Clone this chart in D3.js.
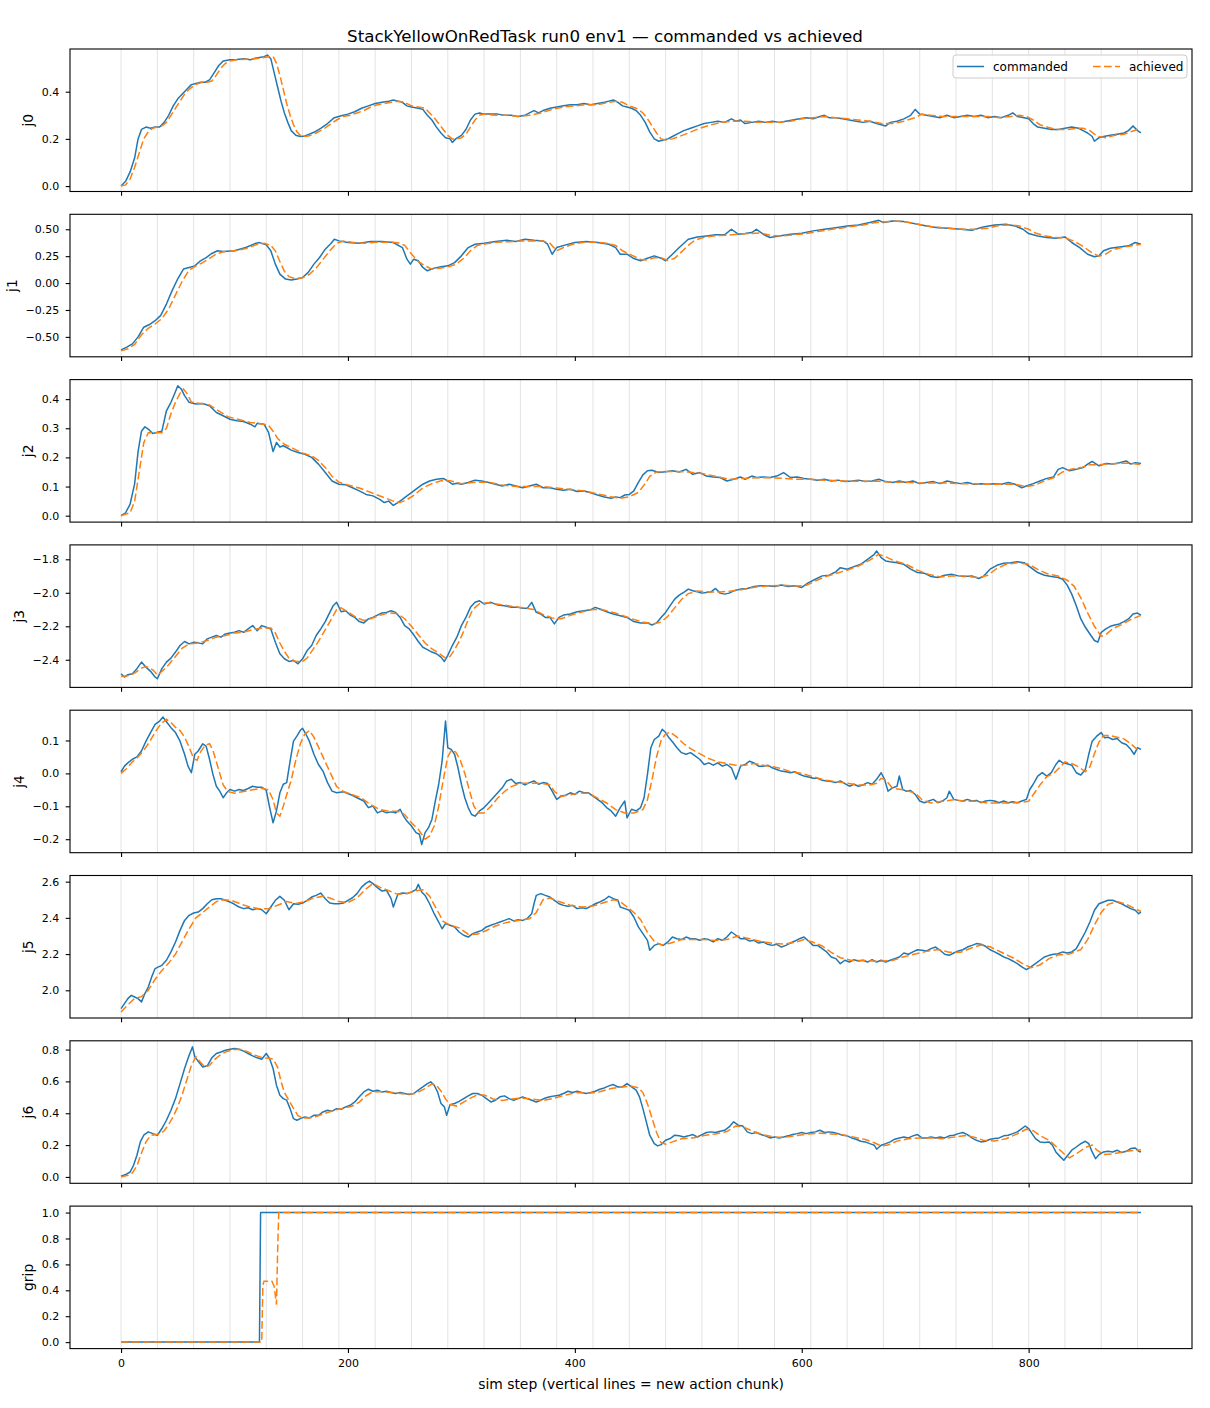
<!DOCTYPE html>
<html lang="en">
<head>
<meta charset="UTF-8">
<title>StackYellowOnRedTask run0 env1 — commanded vs achieved</title>
<script src="https://d3js.org/d3.v7.min.js"></script>
<style>
  body { margin: 0; background: #fff; }
  svg { font-family: "DejaVu Sans", sans-serif; display: block; }
</style>
</head>
<body>
<div id="chart"></div>
<script>
// ---- data: [sim step, value] ----
const jointNames = ["j0", "j1", "j2", "j3", "j4", "j5", "j6", "grip"];
const chunkStarts = [0, 32, 64, 96, 128, 160, 192, 224, 256, 288, 320, 352, 384, 416, 448, 480,
  512, 544, 576, 608, 640, 672, 704, 736, 768, 800, 832, 864, 896];
const xTicks = [0, 200, 400, 600, 800];

const j0Commanded = [[0,0.0],[4,0.02],[8,0.06],[12,0.12],[15,0.2],[18,0.24],[22,0.25],[26,0.245],[30,0.25],[34,0.25],[38,0.27],[42,0.3],[46,0.34],[50,0.37],[54,0.39],[58,0.41],[62,0.43],[66,0.435],[70,0.44],[74,0.44],[78,0.45],[82,0.48],[86,0.51],[90,0.53],[96,0.535],[102,0.537],[108,0.54],[114,0.535],[118,0.542],[122,0.545],[126,0.548],[129,0.555],[132,0.54],[135,0.48],[138,0.42],[141,0.36],[144,0.31],[147,0.27],[150,0.235],[154,0.215],[158,0.21],[162,0.212],[166,0.22],[170,0.228],[176,0.245],[182,0.265],[188,0.29],[194,0.298],[200,0.305],[206,0.315],[212,0.33],[218,0.34],[224,0.35],[230,0.355],[236,0.36],[240,0.365],[244,0.36],[248,0.355],[252,0.34],[256,0.335],[262,0.33],[266,0.325],[270,0.3],[274,0.28],[278,0.25],[282,0.225],[286,0.205],[290,0.2],[292,0.185],[295,0.2],[300,0.215],[304,0.24],[308,0.28],[312,0.305],[316,0.31],[320,0.305],[326,0.305],[332,0.305],[338,0.3],[344,0.3],[350,0.295],[356,0.3],[360,0.31],[364,0.32],[368,0.31],[372,0.32],[378,0.33],[384,0.335],[390,0.34],[396,0.345],[402,0.345],[408,0.35],[414,0.345],[420,0.35],[426,0.355],[430,0.36],[434,0.365],[438,0.355],[442,0.34],[446,0.335],[450,0.33],[454,0.32],[458,0.3],[462,0.27],[466,0.23],[470,0.2],[474,0.19],[478,0.195],[482,0.2],[486,0.21],[490,0.22],[496,0.235],[502,0.245],[508,0.255],[514,0.265],[520,0.27],[526,0.275],[532,0.27],[538,0.285],[542,0.275],[546,0.28],[550,0.265],[556,0.27],[562,0.275],[568,0.27],[574,0.275],[580,0.27],[586,0.275],[592,0.28],[598,0.285],[604,0.29],[610,0.285],[616,0.295],[620,0.3],[624,0.29],[630,0.29],[636,0.285],[642,0.28],[648,0.275],[654,0.27],[660,0.275],[666,0.265],[670,0.26],[674,0.255],[678,0.27],[684,0.275],[690,0.285],[696,0.3],[700,0.325],[704,0.305],[710,0.3],[716,0.295],[722,0.29],[728,0.3],[734,0.29],[740,0.295],[746,0.3],[752,0.295],[758,0.3],[764,0.29],[770,0.295],[776,0.29],[782,0.3],[786,0.31],[790,0.295],[796,0.29],[800,0.285],[804,0.265],[808,0.25],[814,0.245],[820,0.24],[826,0.24],[832,0.245],[838,0.25],[844,0.245],[848,0.235],[852,0.225],[856,0.21],[858,0.19],[862,0.205],[866,0.21],[872,0.215],[878,0.22],[884,0.225],[888,0.235],[892,0.255],[896,0.235],[899,0.225]];
const j0Achieved = [[0,0.0],[4,0.005],[8,0.03],[12,0.08],[16,0.14],[20,0.2],[24,0.23],[28,0.245],[32,0.25],[36,0.255],[40,0.27],[44,0.3],[48,0.33],[52,0.36],[56,0.39],[60,0.41],[64,0.425],[68,0.435],[72,0.44],[76,0.44],[80,0.445],[84,0.47],[88,0.5],[92,0.52],[96,0.53],[102,0.535],[110,0.538],[118,0.54],[124,0.543],[130,0.548],[134,0.55],[137,0.52],[140,0.47],[143,0.41],[146,0.35],[149,0.3],[152,0.26],[155,0.23],[158,0.215],[162,0.21],[166,0.213],[172,0.225],[178,0.24],[184,0.26],[190,0.28],[196,0.295],[202,0.3],[208,0.31],[214,0.32],[220,0.335],[226,0.345],[232,0.35],[238,0.355],[244,0.36],[250,0.355],[256,0.34],[262,0.335],[268,0.33],[272,0.31],[276,0.29],[280,0.265],[284,0.24],[288,0.215],[292,0.2],[296,0.2],[300,0.205],[304,0.22],[308,0.25],[312,0.28],[316,0.3],[320,0.305],[330,0.3],[340,0.3],[350,0.295],[360,0.3],[370,0.31],[380,0.325],[390,0.335],[400,0.34],[410,0.345],[420,0.345],[430,0.355],[436,0.36],[442,0.355],[448,0.34],[454,0.33],[460,0.31],[464,0.285],[468,0.255],[472,0.225],[476,0.2],[480,0.195],[486,0.2],[492,0.21],[500,0.225],[510,0.245],[520,0.26],[530,0.27],[540,0.275],[550,0.275],[560,0.27],[570,0.27],[580,0.27],[590,0.275],[600,0.285],[610,0.29],[620,0.295],[630,0.29],[640,0.285],[650,0.28],[660,0.275],[670,0.265],[680,0.265],[690,0.275],[700,0.29],[706,0.305],[714,0.3],[724,0.295],[734,0.295],[744,0.295],[754,0.295],[764,0.295],[774,0.29],[784,0.295],[792,0.3],[798,0.295],[804,0.28],[810,0.26],[816,0.25],[824,0.24],[834,0.24],[842,0.245],[848,0.245],[854,0.235],[858,0.22],[862,0.21],[868,0.205],[876,0.215],[884,0.22],[890,0.23],[896,0.24],[899,0.235]];

const j1Commanded = [[0,-0.62],[5,-0.595],[10,-0.565],[15,-0.5],[20,-0.41],[25,-0.385],[30,-0.35],[35,-0.3],[40,-0.195],[45,-0.07],[50,0.04],[55,0.13],[60,0.145],[65,0.16],[70,0.207],[75,0.237],[80,0.275],[85,0.3],[90,0.293],[100,0.3],[110,0.33],[118,0.367],[122,0.376],[128,0.355],[132,0.3],[136,0.176],[140,0.083],[145,0.037],[150,0.028],[155,0.037],[160,0.052],[165,0.099],[170,0.176],[175,0.238],[180,0.315],[185,0.367],[188,0.407],[192,0.392],[200,0.377],[210,0.37],[220,0.386],[230,0.386],[240,0.377],[248,0.33],[252,0.222],[255,0.176],[258,0.222],[262,0.207],[266,0.145],[270,0.114],[276,0.139],[282,0.151],[288,0.16],[294,0.19],[300,0.253],[306,0.33],[312,0.361],[320,0.37],[330,0.386],[340,0.398],[348,0.386],[356,0.407],[364,0.398],[372,0.392],[376,0.361],[380,0.268],[384,0.33],[392,0.355],[400,0.377],[410,0.386],[420,0.377],[430,0.361],[436,0.33],[440,0.268],[446,0.268],[452,0.228],[458,0.207],[464,0.231],[470,0.253],[476,0.231],[480,0.207],[486,0.268],[492,0.33],[500,0.407],[508,0.429],[516,0.438],[524,0.448],[532,0.448],[538,0.5],[544,0.454],[550,0.46],[556,0.469],[560,0.5],[566,0.454],[572,0.423],[580,0.438],[590,0.454],[600,0.463],[610,0.485],[620,0.5],[630,0.515],[640,0.531],[650,0.54],[660,0.562],[668,0.583],[672,0.562],[680,0.577],[690,0.571],[700,0.552],[710,0.531],[720,0.515],[730,0.509],[740,0.5],[750,0.49],[760,0.522],[770,0.54],[780,0.546],[788,0.531],[795,0.5],[800,0.46],[808,0.438],[816,0.423],[824,0.417],[832,0.429],[838,0.377],[845,0.33],[852,0.268],[858,0.244],[862,0.253],[866,0.3],[872,0.324],[880,0.336],[888,0.346],[894,0.377],[899,0.361]];
const j1Achieved = [[0,-0.63],[6,-0.61],[12,-0.57],[18,-0.48],[24,-0.42],[30,-0.38],[36,-0.33],[42,-0.24],[48,-0.11],[54,0.02],[60,0.12],[66,0.16],[72,0.19],[78,0.23],[84,0.27],[90,0.29],[100,0.3],[110,0.32],[120,0.36],[126,0.37],[132,0.35],[136,0.3],[140,0.2],[144,0.11],[148,0.06],[154,0.04],[160,0.05],[166,0.08],[172,0.14],[178,0.22],[184,0.3],[190,0.37],[196,0.39],[204,0.38],[214,0.37],[224,0.38],[236,0.38],[244,0.375],[250,0.35],[256,0.27],[262,0.2],[268,0.16],[274,0.13],[282,0.14],[290,0.155],[296,0.18],[302,0.23],[308,0.3],[314,0.35],[322,0.365],[332,0.38],[342,0.385],[352,0.39],[362,0.39],[372,0.39],[378,0.37],[384,0.3],[390,0.33],[398,0.36],[408,0.38],[418,0.38],[428,0.37],[436,0.35],[442,0.3],[450,0.26],[458,0.22],[464,0.215],[470,0.235],[476,0.235],[482,0.21],[488,0.23],[494,0.29],[500,0.35],[506,0.4],[514,0.425],[524,0.44],[534,0.445],[544,0.455],[554,0.46],[564,0.465],[574,0.44],[584,0.44],[594,0.45],[604,0.46],[614,0.48],[624,0.495],[634,0.51],[644,0.525],[654,0.54],[664,0.56],[674,0.57],[684,0.575],[694,0.565],[704,0.545],[714,0.525],[724,0.515],[734,0.505],[744,0.5],[754,0.5],[764,0.51],[774,0.535],[784,0.54],[792,0.53],[800,0.5],[806,0.465],[814,0.44],[822,0.425],[832,0.42],[840,0.39],[848,0.34],[856,0.28],[862,0.25],[868,0.27],[874,0.31],[882,0.33],[890,0.345],[899,0.36]];

const j2Commanded = [[0,0],[4,0.01],[8,0.04],[12,0.11],[15,0.22],[18,0.29],[21,0.305],[24,0.297],[28,0.282],[32,0.286],[36,0.29],[40,0.36],[44,0.389],[47,0.417],[50,0.446],[53,0.435],[56,0.412],[60,0.389],[66,0.383],[72,0.385],[78,0.377],[84,0.354],[90,0.343],[96,0.331],[102,0.326],[108,0.323],[114,0.314],[118,0.305],[120,0.317],[126,0.314],[130,0.286],[134,0.22],[137,0.251],[140,0.236],[143,0.24],[146,0.234],[150,0.225],[156,0.217],[162,0.211],[168,0.2],[174,0.177],[180,0.148],[186,0.119],[192,0.108],[198,0.106],[204,0.096],[210,0.085],[216,0.073],[222,0.068],[228,0.056],[232,0.045],[236,0.05],[240,0.035],[244,0.045],[248,0.056],[252,0.068],[256,0.079],[260,0.091],[266,0.108],[272,0.119],[278,0.125],[284,0.128],[288,0.119],[292,0.108],[296,0.111],[300,0.108],[306,0.114],[312,0.122],[318,0.119],[324,0.114],[330,0.108],[336,0.102],[342,0.108],[348,0.102],[354,0.096],[360,0.102],[366,0.108],[372,0.096],[378,0.096],[384,0.091],[390,0.087],[396,0.091],[402,0.083],[408,0.085],[414,0.079],[420,0.071],[426,0.064],[432,0.06],[436,0.064],[440,0.062],[444,0.071],[448,0.073],[452,0.085],[456,0.114],[460,0.14],[464,0.154],[468,0.156],[474,0.148],[480,0.151],[486,0.154],[492,0.15],[498,0.159],[504,0.142],[510,0.148],[516,0.136],[522,0.133],[528,0.131],[534,0.119],[540,0.125],[546,0.133],[550,0.125],[556,0.136],[560,0.131],[566,0.133],[572,0.131],[578,0.136],[584,0.148],[590,0.131],[596,0.133],[602,0.128],[608,0.125],[614,0.122],[620,0.125],[626,0.119],[632,0.122],[638,0.117],[644,0.119],[650,0.122],[656,0.117],[662,0.119],[668,0.125],[674,0.117],[680,0.114],[686,0.119],[692,0.114],[698,0.119],[704,0.11],[710,0.114],[716,0.117],[722,0.11],[728,0.119],[734,0.114],[740,0.11],[746,0.114],[752,0.108],[758,0.11],[764,0.108],[770,0.11],[776,0.108],[782,0.114],[788,0.108],[794,0.096],[798,0.102],[804,0.11],[810,0.119],[816,0.128],[822,0.133],[826,0.159],[830,0.165],[836,0.154],[842,0.159],[848,0.165],[852,0.177],[856,0.186],[862,0.171],[868,0.179],[874,0.177],[880,0.182],[886,0.188],[890,0.177],[894,0.182],[899,0.179]];
const j2Achieved = [[0,0],[8,0.01],[12,0.05],[16,0.15],[20,0.25],[24,0.285],[30,0.285],[36,0.285],[40,0.3],[44,0.35],[48,0.39],[52,0.42],[55,0.435],[58,0.42],[62,0.39],[70,0.385],[78,0.38],[86,0.36],[94,0.34],[104,0.33],[114,0.32],[124,0.315],[130,0.31],[134,0.29],[138,0.265],[144,0.245],[152,0.23],[160,0.215],[168,0.205],[174,0.19],[180,0.165],[186,0.135],[192,0.115],[200,0.105],[210,0.095],[220,0.08],[230,0.065],[240,0.05],[246,0.045],[252,0.055],[258,0.07],[266,0.095],[274,0.11],[282,0.12],[290,0.12],[300,0.11],[312,0.115],[324,0.115],[336,0.105],[348,0.1],[360,0.1],[372,0.1],[384,0.095],[396,0.09],[408,0.085],[420,0.075],[432,0.065],[440,0.06],[448,0.065],[456,0.08],[462,0.11],[466,0.135],[472,0.15],[480,0.152],[490,0.152],[500,0.15],[512,0.145],[524,0.135],[536,0.125],[548,0.128],[560,0.13],[572,0.13],[584,0.128],[596,0.125],[608,0.125],[620,0.122],[632,0.12],[644,0.118],[656,0.118],[668,0.118],[680,0.115],[692,0.115],[704,0.112],[716,0.112],[728,0.112],[740,0.11],[752,0.11],[764,0.108],[776,0.108],[788,0.108],[798,0.1],[806,0.105],[814,0.12],[822,0.13],[830,0.15],[838,0.16],[846,0.165],[854,0.175],[862,0.175],[872,0.178],[882,0.18],[890,0.18],[899,0.175]];

const j3Commanded = [[0,-2.483],[3,-2.503],[6,-2.489],[10,-2.483],[14,-2.453],[18,-2.414],[22,-2.444],[26,-2.469],[30,-2.503],[32,-2.513],[36,-2.453],[40,-2.414],[44,-2.39],[48,-2.354],[52,-2.315],[56,-2.291],[60,-2.305],[64,-2.295],[68,-2.299],[72,-2.305],[76,-2.275],[80,-2.265],[84,-2.255],[88,-2.265],[92,-2.246],[96,-2.24],[100,-2.236],[104,-2.226],[108,-2.236],[112,-2.216],[116,-2.196],[120,-2.226],[124,-2.196],[128,-2.206],[132,-2.216],[136,-2.295],[140,-2.364],[144,-2.394],[148,-2.41],[152,-2.404],[156,-2.424],[160,-2.394],[164,-2.345],[168,-2.315],[172,-2.255],[176,-2.216],[180,-2.172],[184,-2.117],[187,-2.077],[190,-2.057],[194,-2.113],[198,-2.107],[202,-2.133],[206,-2.147],[210,-2.172],[214,-2.18],[218,-2.156],[222,-2.147],[226,-2.133],[230,-2.121],[234,-2.117],[238,-2.107],[242,-2.117],[246,-2.147],[250,-2.196],[254,-2.216],[258,-2.251],[262,-2.291],[266,-2.325],[270,-2.339],[274,-2.354],[278,-2.364],[282,-2.384],[285,-2.41],[288,-2.374],[292,-2.315],[296,-2.265],[300,-2.196],[304,-2.147],[308,-2.087],[312,-2.057],[316,-2.048],[320,-2.067],[326,-2.057],[332,-2.073],[338,-2.077],[344,-2.087],[350,-2.087],[354,-2.093],[358,-2.093],[362,-2.057],[366,-2.117],[370,-2.127],[374,-2.147],[378,-2.147],[382,-2.186],[386,-2.147],[390,-2.133],[396,-2.127],[402,-2.113],[408,-2.107],[414,-2.101],[418,-2.087],[422,-2.097],[428,-2.113],[434,-2.127],[440,-2.137],[446,-2.147],[452,-2.172],[458,-2.18],[464,-2.18],[468,-2.192],[472,-2.18],[476,-2.147],[480,-2.117],[484,-2.077],[488,-2.038],[492,-2.014],[496,-1.998],[500,-1.978],[504,-1.988],[508,-1.994],[512,-2.002],[516,-1.998],[520,-1.994],[524,-1.974],[528,-2.002],[532,-2.008],[536,-2.002],[540,-1.988],[546,-1.978],[552,-1.974],[558,-1.962],[564,-1.958],[570,-1.958],[576,-1.962],[582,-1.954],[588,-1.962],[594,-1.958],[600,-1.968],[606,-1.939],[612,-1.919],[618,-1.899],[624,-1.895],[630,-1.875],[634,-1.85],[640,-1.859],[646,-1.844],[652,-1.83],[658,-1.8],[664,-1.77],[666,-1.75],[670,-1.79],[674,-1.81],[678,-1.815],[684,-1.82],[690,-1.83],[696,-1.859],[702,-1.879],[708,-1.883],[714,-1.903],[720,-1.909],[726,-1.895],[732,-1.889],[738,-1.899],[744,-1.903],[750,-1.899],[756,-1.915],[760,-1.903],[766,-1.859],[772,-1.836],[778,-1.824],[784,-1.82],[790,-1.815],[796,-1.82],[802,-1.85],[808,-1.879],[814,-1.895],[820,-1.903],[826,-1.909],[830,-1.919],[834,-1.954],[838,-2.008],[842,-2.077],[846,-2.156],[850,-2.206],[854,-2.246],[858,-2.285],[861,-2.295],[864,-2.236],[868,-2.216],[872,-2.2],[876,-2.192],[880,-2.186],[884,-2.172],[888,-2.156],[892,-2.127],[896,-2.121],[899,-2.133]];
const j3Achieved = [[0,-2.5],[6,-2.495],[12,-2.48],[18,-2.45],[22,-2.44],[28,-2.46],[32,-2.49],[36,-2.47],[42,-2.43],[48,-2.38],[54,-2.33],[60,-2.305],[68,-2.3],[76,-2.285],[84,-2.265],[92,-2.255],[100,-2.24],[108,-2.235],[116,-2.22],[124,-2.21],[132,-2.21],[136,-2.24],[140,-2.3],[144,-2.35],[148,-2.39],[154,-2.41],[160,-2.41],[164,-2.39],[168,-2.35],[174,-2.29],[180,-2.22],[186,-2.15],[190,-2.1],[194,-2.09],[200,-2.115],[208,-2.15],[214,-2.165],[220,-2.155],[228,-2.135],[236,-2.12],[244,-2.125],[250,-2.155],[256,-2.2],[262,-2.25],[268,-2.3],[274,-2.335],[280,-2.36],[286,-2.39],[290,-2.38],[294,-2.34],[298,-2.29],[302,-2.23],[306,-2.16],[310,-2.1],[316,-2.065],[324,-2.06],[334,-2.07],[344,-2.08],[354,-2.09],[364,-2.1],[372,-2.13],[380,-2.15],[388,-2.155],[396,-2.135],[406,-2.115],[416,-2.1],[424,-2.1],[432,-2.115],[440,-2.13],[450,-2.155],[460,-2.175],[470,-2.185],[476,-2.175],[482,-2.14],[488,-2.09],[494,-2.04],[500,-2.005],[508,-1.99],[518,-1.995],[528,-1.995],[538,-1.99],[548,-1.98],[560,-1.965],[572,-1.958],[584,-1.955],[596,-1.96],[604,-1.955],[612,-1.93],[620,-1.905],[630,-1.885],[640,-1.865],[650,-1.84],[660,-1.805],[668,-1.77],[674,-1.785],[682,-1.81],[692,-1.83],[702,-1.865],[712,-1.89],[722,-1.905],[732,-1.9],[744,-1.9],[756,-1.91],[764,-1.895],[772,-1.855],[780,-1.83],[790,-1.82],[800,-1.83],[808,-1.86],[816,-1.885],[826,-1.9],[834,-1.925],[840,-1.96],[846,-2.03],[852,-2.12],[858,-2.2],[864,-2.26],[868,-2.25],[874,-2.215],[882,-2.19],[890,-2.16],[899,-2.135]];

const j4Commanded = [[0,0.005],[3,0.022],[6,0.032],[10,0.043],[14,0.05],[18,0.068],[22,0.098],[26,0.124],[30,0.149],[34,0.159],[37,0.171],[40,0.157],[44,0.139],[48,0.124],[52,0.098],[56,0.058],[59,0.022],[62,0.002],[65,0.058],[68,0.068],[72,0.09],[75,0.083],[78,0.043],[81,-0.003],[84,-0.039],[87,-0.054],[90,-0.074],[93,-0.059],[96,-0.049],[100,-0.054],[104,-0.049],[108,-0.052],[112,-0.046],[116,-0.039],[120,-0.042],[124,-0.042],[128,-0.052],[131,-0.104],[134,-0.15],[137,-0.114],[140,-0.059],[143,-0.033],[146,-0.028],[149,0.037],[152,0.098],[155,0.113],[158,0.131],[160,0.137],[163,0.119],[166,0.098],[170,0.058],[174,0.027],[178,0.007],[182,-0.028],[186,-0.054],[190,-0.059],[196,-0.056],[202,-0.064],[208,-0.074],[214,-0.084],[218,-0.104],[222,-0.099],[226,-0.12],[230,-0.114],[234,-0.12],[238,-0.117],[242,-0.12],[246,-0.109],[249,-0.13],[252,-0.145],[256,-0.16],[260,-0.18],[263,-0.185],[265,-0.216],[268,-0.18],[271,-0.165],[274,-0.14],[277,-0.084],[280,-0.033],[283,0.037],[286,0.159],[288,0.078],[291,0.073],[294,0.058],[297,0.017],[300,-0.033],[303,-0.074],[306,-0.104],[309,-0.125],[312,-0.13],[316,-0.114],[320,-0.104],[324,-0.089],[328,-0.074],[332,-0.059],[336,-0.044],[340,-0.023],[344,-0.018],[348,-0.031],[352,-0.028],[356,-0.035],[360,-0.028],[364,-0.023],[368,-0.033],[372,-0.028],[376,-0.031],[380,-0.054],[384,-0.079],[388,-0.069],[392,-0.066],[396,-0.059],[400,-0.064],[404,-0.054],[408,-0.059],[412,-0.059],[416,-0.069],[420,-0.079],[424,-0.089],[428,-0.104],[432,-0.114],[436,-0.13],[440,-0.104],[444,-0.084],[446,-0.135],[450,-0.109],[454,-0.114],[458,-0.104],[461,-0.074],[464,-0.003],[467,0.078],[470,0.103],[474,0.113],[477,0.134],[480,0.124],[483,0.108],[486,0.096],[490,0.078],[494,0.063],[498,0.058],[502,0.063],[506,0.053],[510,0.043],[514,0.027],[518,0.032],[522,0.025],[526,0.032],[530,0.022],[534,0.027],[538,0.017],[542,-0.018],[546,0.022],[550,0.027],[554,0.037],[558,0.032],[562,0.022],[566,0.022],[570,0.025],[574,0.017],[578,0.012],[582,0.007],[586,0.005],[590,0.002],[594,0.005],[598,-0.003],[602,-0.008],[606,-0.011],[610,-0.015],[614,-0.015],[618,-0.021],[622,-0.023],[626,-0.025],[630,-0.028],[634,-0.023],[638,-0.031],[642,-0.039],[646,-0.033],[650,-0.039],[654,-0.035],[658,-0.028],[662,-0.033],[666,-0.018],[670,0.002],[673,-0.018],[676,-0.054],[680,-0.044],[684,-0.039],[686,-0.008],[689,-0.049],[692,-0.054],[696,-0.052],[700,-0.064],[704,-0.084],[708,-0.089],[712,-0.084],[716,-0.079],[720,-0.089],[724,-0.084],[728,-0.074],[730,-0.054],[734,-0.079],[738,-0.082],[742,-0.084],[746,-0.079],[750,-0.084],[754,-0.082],[758,-0.089],[762,-0.084],[766,-0.082],[770,-0.084],[774,-0.089],[778,-0.084],[782,-0.089],[786,-0.086],[790,-0.089],[794,-0.084],[798,-0.079],[801,-0.049],[804,-0.033],[808,-0.008],[812,0.002],[816,-0.008],[820,0.002],[824,0.027],[827,0.04],[830,0.032],[834,0.029],[838,0.025],[842,0.002],[846,-0.005],[850,0.012],[853,0.058],[856,0.098],[860,0.113],[864,0.124],[867,0.108],[870,0.11],[874,0.103],[878,0.106],[882,0.093],[886,0.088],[890,0.073],[893,0.058],[896,0.078],[899,0.073]];
const j4Achieved = [[0,0.0],[5,0.015],[10,0.035],[15,0.05],[20,0.07],[25,0.095],[30,0.125],[35,0.15],[40,0.165],[44,0.155],[48,0.14],[52,0.13],[56,0.11],[60,0.08],[64,0.045],[67,0.04],[70,0.065],[74,0.085],[78,0.09],[81,0.07],[84,0.035],[87,0.0],[90,-0.035],[94,-0.055],[100,-0.06],[108,-0.055],[116,-0.05],[124,-0.045],[130,-0.05],[134,-0.08],[137,-0.12],[140,-0.13],[143,-0.1],[146,-0.065],[150,-0.02],[154,0.04],[158,0.09],[162,0.12],[166,0.13],[170,0.11],[174,0.08],[178,0.05],[182,0.02],[186,-0.01],[190,-0.04],[196,-0.055],[204,-0.065],[212,-0.075],[220,-0.095],[228,-0.11],[236,-0.115],[244,-0.115],[250,-0.125],[256,-0.15],[262,-0.17],[268,-0.2],[272,-0.19],[276,-0.16],[280,-0.1],[284,-0.02],[288,0.05],[291,0.07],[295,0.065],[299,0.04],[303,0.0],[307,-0.05],[311,-0.1],[315,-0.12],[320,-0.12],[326,-0.1],[332,-0.075],[338,-0.055],[344,-0.04],[352,-0.03],[360,-0.03],[370,-0.03],[378,-0.035],[382,-0.055],[388,-0.07],[396,-0.065],[404,-0.06],[412,-0.06],[420,-0.075],[428,-0.09],[436,-0.11],[444,-0.12],[452,-0.12],[460,-0.11],[464,-0.08],[468,-0.02],[472,0.05],[476,0.1],[480,0.12],[484,0.125],[490,0.11],[496,0.09],[502,0.075],[510,0.06],[518,0.045],[526,0.035],[534,0.03],[542,0.025],[550,0.025],[558,0.03],[566,0.025],[574,0.02],[582,0.015],[590,0.005],[600,0.0],[610,-0.01],[620,-0.02],[630,-0.025],[640,-0.03],[650,-0.035],[660,-0.035],[666,-0.03],[670,-0.015],[674,-0.02],[680,-0.045],[690,-0.05],[700,-0.06],[706,-0.08],[714,-0.09],[724,-0.085],[734,-0.08],[744,-0.085],[754,-0.085],[764,-0.09],[774,-0.09],[784,-0.09],[794,-0.088],[800,-0.085],[804,-0.065],[810,-0.035],[816,-0.01],[822,0.0],[828,0.02],[832,0.035],[838,0.03],[844,0.02],[850,0.005],[854,0.02],[858,0.06],[862,0.095],[866,0.115],[872,0.115],[878,0.11],[884,0.105],[890,0.09],[895,0.075],[899,0.075]];

const j5Commanded = [[0,1.899],[3,1.926],[6,1.954],[9,1.972],[12,1.963],[15,1.954],[18,1.936],[21,1.982],[24,2.018],[27,2.074],[30,2.12],[33,2.129],[36,2.138],[40,2.166],[44,2.212],[48,2.267],[52,2.331],[56,2.386],[60,2.414],[64,2.427],[68,2.432],[72,2.451],[76,2.478],[80,2.5],[84,2.506],[88,2.506],[92,2.497],[96,2.488],[100,2.475],[104,2.46],[108,2.451],[112,2.456],[116,2.445],[120,2.451],[124,2.445],[128,2.423],[132,2.46],[136,2.497],[140,2.519],[144,2.497],[148,2.445],[152,2.478],[156,2.475],[160,2.482],[164,2.497],[168,2.515],[172,2.524],[176,2.537],[180,2.506],[184,2.482],[188,2.478],[192,2.478],[196,2.482],[200,2.497],[204,2.511],[208,2.534],[212,2.57],[216,2.592],[219,2.603],[222,2.589],[226,2.567],[230,2.548],[234,2.552],[238,2.506],[240,2.46],[244,2.53],[248,2.537],[252,2.534],[256,2.543],[260,2.556],[262,2.585],[265,2.543],[268,2.524],[272,2.478],[276,2.423],[280,2.377],[283,2.34],[286,2.368],[290,2.359],[294,2.35],[298,2.322],[302,2.304],[306,2.294],[310,2.313],[314,2.322],[318,2.331],[322,2.35],[326,2.359],[330,2.368],[334,2.377],[338,2.386],[342,2.396],[346,2.383],[350,2.39],[354,2.386],[358,2.396],[362,2.423],[364,2.478],[366,2.524],[370,2.534],[374,2.524],[378,2.515],[382,2.497],[386,2.478],[390,2.469],[394,2.464],[398,2.469],[402,2.451],[406,2.456],[410,2.451],[414,2.464],[418,2.478],[422,2.488],[426,2.5],[430,2.519],[434,2.506],[438,2.497],[440,2.46],[444,2.451],[448,2.442],[452,2.405],[456,2.35],[460,2.313],[464,2.276],[466,2.221],[470,2.248],[474,2.258],[478,2.248],[482,2.267],[486,2.294],[490,2.285],[494,2.28],[498,2.294],[502,2.285],[506,2.285],[510,2.276],[514,2.285],[518,2.28],[522,2.267],[526,2.285],[530,2.276],[534,2.294],[538,2.322],[542,2.304],[546,2.285],[550,2.285],[554,2.272],[558,2.276],[562,2.261],[566,2.267],[570,2.254],[574,2.248],[578,2.254],[582,2.239],[586,2.248],[590,2.261],[594,2.272],[598,2.285],[602,2.294],[606,2.272],[610,2.248],[614,2.248],[618,2.23],[622,2.212],[626,2.184],[630,2.175],[634,2.147],[638,2.166],[642,2.156],[646,2.169],[650,2.162],[654,2.166],[658,2.156],[662,2.169],[666,2.156],[670,2.166],[674,2.156],[678,2.166],[682,2.175],[686,2.184],[690,2.206],[694,2.199],[698,2.212],[702,2.224],[706,2.221],[710,2.217],[714,2.23],[718,2.239],[722,2.221],[726,2.199],[730,2.193],[734,2.206],[738,2.217],[742,2.224],[746,2.239],[750,2.248],[754,2.258],[758,2.254],[762,2.243],[766,2.224],[770,2.212],[774,2.199],[778,2.184],[782,2.175],[786,2.162],[790,2.147],[794,2.129],[798,2.114],[802,2.129],[806,2.147],[810,2.166],[814,2.184],[818,2.193],[822,2.199],[826,2.202],[830,2.212],[834,2.206],[838,2.212],[842,2.23],[846,2.276],[850,2.322],[854,2.377],[858,2.442],[862,2.478],[866,2.488],[870,2.497],[874,2.497],[878,2.488],[882,2.478],[886,2.464],[890,2.451],[894,2.442],[897,2.423],[899,2.432]];
const j5Achieved = [[0,1.88],[6,1.92],[12,1.955],[18,1.965],[24,2.0],[30,2.06],[36,2.11],[42,2.15],[48,2.2],[54,2.27],[60,2.34],[66,2.4],[72,2.43],[78,2.46],[84,2.49],[90,2.5],[98,2.495],[106,2.475],[114,2.46],[122,2.45],[130,2.45],[138,2.47],[146,2.49],[154,2.48],[162,2.49],[170,2.51],[178,2.52],[184,2.51],[192,2.49],[200,2.485],[208,2.51],[216,2.56],[222,2.59],[228,2.57],[236,2.55],[244,2.53],[252,2.535],[260,2.55],[266,2.555],[272,2.52],[278,2.45],[284,2.38],[290,2.36],[298,2.345],[306,2.31],[314,2.31],[322,2.33],[330,2.355],[340,2.375],[350,2.385],[360,2.395],[366,2.43],[372,2.5],[378,2.51],[386,2.49],[396,2.47],[406,2.46],[416,2.465],[426,2.485],[434,2.5],[440,2.49],[446,2.46],[452,2.43],[458,2.39],[464,2.32],[470,2.27],[476,2.25],[484,2.26],[494,2.28],[504,2.28],[514,2.28],[524,2.275],[534,2.28],[544,2.3],[554,2.285],[564,2.27],[574,2.26],[584,2.255],[594,2.265],[602,2.28],[610,2.265],[618,2.245],[626,2.21],[634,2.18],[644,2.165],[656,2.165],[668,2.16],[680,2.165],[690,2.185],[700,2.2],[710,2.215],[720,2.225],[730,2.21],[740,2.21],[750,2.235],[758,2.25],[766,2.24],[776,2.21],[786,2.18],[794,2.15],[802,2.125],[810,2.14],[818,2.175],[826,2.195],[836,2.2],[846,2.225],[852,2.28],[858,2.36],[864,2.43],[870,2.475],[878,2.49],[886,2.475],[894,2.45],[899,2.435]];

const j6Commanded = [[0,0.004],[4,0.015],[8,0.031],[11,0.073],[14,0.136],[17,0.22],[20,0.262],[24,0.283],[28,0.272],[32,0.262],[36,0.304],[40,0.356],[44,0.419],[48,0.492],[52,0.586],[56,0.681],[60,0.764],[63,0.817],[65,0.754],[68,0.727],[72,0.691],[76,0.698],[80,0.748],[84,0.775],[88,0.785],[92,0.796],[96,0.802],[100,0.806],[104,0.802],[108,0.79],[112,0.775],[116,0.76],[120,0.748],[124,0.739],[128,0.775],[131,0.743],[134,0.681],[137,0.576],[140,0.513],[143,0.492],[146,0.482],[149,0.429],[152,0.366],[155,0.356],[158,0.366],[162,0.377],[166,0.371],[170,0.387],[174,0.387],[178,0.408],[182,0.419],[186,0.413],[190,0.429],[194,0.425],[198,0.44],[202,0.45],[206,0.471],[210,0.503],[214,0.534],[218,0.551],[222,0.538],[226,0.545],[230,0.534],[234,0.538],[238,0.53],[242,0.524],[246,0.53],[250,0.524],[254,0.517],[258,0.524],[262,0.545],[266,0.565],[270,0.586],[273,0.597],[276,0.576],[279,0.534],[282,0.461],[285,0.44],[287,0.387],[290,0.454],[294,0.461],[298,0.475],[302,0.492],[306,0.509],[310,0.524],[314,0.524],[318,0.513],[322,0.492],[326,0.471],[330,0.482],[334,0.503],[338,0.509],[342,0.492],[346,0.482],[350,0.492],[354,0.503],[358,0.492],[362,0.482],[366,0.471],[370,0.482],[374,0.496],[378,0.503],[382,0.509],[386,0.513],[390,0.524],[394,0.538],[398,0.53],[402,0.538],[406,0.53],[410,0.524],[414,0.53],[418,0.538],[422,0.551],[426,0.559],[430,0.572],[434,0.58],[438,0.565],[442,0.565],[446,0.586],[450,0.565],[454,0.545],[457,0.503],[460,0.429],[463,0.346],[466,0.262],[470,0.209],[473,0.195],[476,0.203],[480,0.23],[484,0.241],[488,0.262],[492,0.258],[496,0.251],[500,0.258],[504,0.266],[508,0.251],[512,0.266],[516,0.279],[520,0.283],[524,0.279],[528,0.287],[532,0.293],[536,0.314],[540,0.346],[544,0.325],[548,0.32],[552,0.283],[556,0.272],[560,0.279],[564,0.266],[568,0.258],[572,0.245],[576,0.251],[580,0.245],[584,0.251],[588,0.258],[592,0.266],[596,0.272],[600,0.279],[604,0.272],[608,0.279],[612,0.283],[616,0.293],[620,0.279],[624,0.283],[628,0.279],[632,0.272],[636,0.262],[640,0.258],[644,0.245],[648,0.237],[652,0.224],[656,0.22],[660,0.209],[664,0.199],[666,0.174],[670,0.199],[674,0.209],[678,0.22],[682,0.237],[686,0.245],[690,0.251],[694,0.245],[698,0.258],[702,0.266],[706,0.245],[710,0.245],[714,0.251],[718,0.245],[722,0.251],[726,0.245],[730,0.258],[734,0.262],[738,0.272],[742,0.279],[746,0.266],[750,0.245],[754,0.23],[758,0.22],[762,0.224],[766,0.237],[770,0.241],[774,0.245],[778,0.258],[782,0.262],[786,0.272],[790,0.283],[794,0.304],[797,0.32],[800,0.304],[803,0.272],[806,0.241],[810,0.22],[814,0.216],[818,0.22],[821,0.199],[824,0.157],[828,0.126],[831,0.105],[834,0.132],[838,0.168],[842,0.188],[846,0.209],[850,0.224],[853,0.209],[856,0.157],[859,0.115],[862,0.14],[866,0.157],[870,0.161],[874,0.157],[878,0.168],[882,0.153],[886,0.161],[890,0.178],[894,0.182],[897,0.161],[899,0.157]];
const j6Achieved = [[0,0.0],[6,0.01],[10,0.025],[14,0.07],[18,0.15],[22,0.22],[26,0.26],[30,0.265],[34,0.27],[38,0.29],[42,0.33],[46,0.38],[50,0.44],[54,0.52],[58,0.61],[62,0.7],[66,0.755],[70,0.72],[74,0.69],[78,0.7],[82,0.735],[88,0.77],[94,0.79],[100,0.8],[106,0.8],[112,0.785],[118,0.765],[124,0.75],[130,0.745],[134,0.74],[138,0.69],[141,0.6],[144,0.53],[148,0.48],[152,0.43],[156,0.385],[160,0.37],[166,0.37],[172,0.38],[180,0.4],[188,0.42],[196,0.43],[204,0.445],[210,0.47],[216,0.51],[222,0.535],[230,0.535],[240,0.53],[250,0.52],[260,0.525],[268,0.555],[274,0.585],[278,0.575],[282,0.54],[286,0.49],[290,0.455],[296,0.445],[302,0.47],[308,0.495],[314,0.515],[320,0.515],[328,0.49],[336,0.48],[344,0.49],[352,0.495],[362,0.49],[372,0.48],[382,0.495],[392,0.515],[402,0.53],[412,0.525],[422,0.535],[432,0.555],[442,0.565],[450,0.57],[456,0.56],[460,0.53],[464,0.46],[468,0.37],[472,0.28],[476,0.215],[480,0.205],[486,0.22],[494,0.24],[504,0.245],[514,0.26],[524,0.27],[534,0.285],[542,0.32],[548,0.315],[556,0.29],[566,0.265],[576,0.25],[586,0.25],[596,0.26],[606,0.27],[616,0.275],[626,0.27],[636,0.265],[646,0.25],[656,0.235],[664,0.215],[670,0.195],[676,0.2],[684,0.225],[694,0.24],[704,0.245],[714,0.245],[724,0.24],[734,0.25],[744,0.26],[752,0.25],[760,0.23],[770,0.225],[780,0.24],[790,0.27],[798,0.3],[804,0.29],[810,0.26],[818,0.23],[826,0.18],[832,0.14],[836,0.12],[842,0.145],[850,0.185],[856,0.2],[860,0.17],[866,0.14],[874,0.145],[882,0.155],[890,0.165],[899,0.17]];

const gripCommanded = [[0,0],[122,0],[123,1],[899,1]];
const gripAchieved = [[0,0],[124,0],[125,0.44],[126,0.47],[133,0.47],[135,0.43],[137,0.29],[138,0.7],[139,1],[899,1]];

// axis settings per panel
const yDomains = [[-0.023,0.581],[-0.685,0.639],[-0.022,0.467],[-2.565,-1.714],[-0.241,0.192],[1.847,2.634],[-0.04,0.855],[-0.05,1.05]];
const yTickValues = [[0,0.2,0.4],[-0.5,-0.25,0,0.25,0.5],[0,0.1,0.2,0.3,0.4],[-2.4,-2.2,-2.0,-1.8],[-0.2,-0.1,0,0.1],[2.0,2.2,2.4,2.6],[0,0.2,0.4,0.6,0.8],[0,0.2,0.4,0.6,0.8,1.0]];
const yTickFormats = [".1f",".2f",".1f",".1f",".1f",".1f",".1f",".1f"];

const commandedSeries = [j0Commanded, j1Commanded, j2Commanded, j3Commanded, j4Commanded, j5Commanded, j6Commanded, gripCommanded];
const achievedSeries = [j0Achieved, j1Achieved, j2Achieved, j3Achieved, j4Achieved, j5Achieved, j6Achieved, gripAchieved];

// ---- layout ----
const W = 1210, H = 1408;
const left = 70, right = 1192, top0 = 49, pitch = 165.3, ph = 142.5;
const blue = "#1f77b4", orange = "#ff7f0e";

const svg = d3.select("#chart").append("svg")
  .attr("width", W).attr("height", H)
  .attr("viewBox", `0 0 ${W} ${H}`);
svg.append("rect").attr("width", W).attr("height", H).attr("fill", "#fff");

const x = d3.scaleLinear().domain([-45, 944]).range([left, right]);

svg.append("text")
  .attr("x", W / 2).attr("y", 42)
  .attr("text-anchor", "middle")
  .attr("font-size", 16.7)
  .text("StackYellowOnRedTask run0 env1 — commanded vs achieved");

jointNames.forEach((name, i) => {
  const top = top0 + i * pitch;
  const y = d3.scaleLinear().domain(yDomains[i]).range([top + ph, top]);
  const g = svg.append("g");

  g.append("clipPath").attr("id", "clip" + i)
    .append("rect").attr("x", left).attr("y", top).attr("width", right - left).attr("height", ph);

  // action chunk boundaries
  g.append("g").selectAll("line").data(chunkStarts).join("line")
    .attr("x1", d => x(d)).attr("x2", d => x(d))
    .attr("y1", top).attr("y2", top + ph)
    .attr("stroke", "#808080").attr("stroke-opacity", 0.25).attr("stroke-width", 0.9);

  const line = d3.line().x(d => x(d[0])).y(d => y(d[1]));
  const plot = g.append("g").attr("clip-path", `url(#clip${i})`);
  plot.append("path").datum(commandedSeries[i])
    .attr("d", line).attr("fill", "none")
    .attr("stroke", blue).attr("stroke-width", 1.5).attr("stroke-linejoin", "round");
  plot.append("path").datum(achievedSeries[i])
    .attr("d", line).attr("fill", "none")
    .attr("stroke", orange).attr("stroke-width", 1.5)
    .attr("stroke-dasharray", "7.7,3.3");

  // y axis
  const yAxis = g.append("g").attr("transform", `translate(${left},0)`)
    .call(d3.axisLeft(y).tickValues(yTickValues[i]).tickFormat(d3.format(yTickFormats[i])).tickSize(4.3).tickPadding(6.5));
  yAxis.select(".domain").remove();
  yAxis.selectAll("text").attr("font-size", 11).attr("font-family", "DejaVu Sans").attr("fill", "#000");
  yAxis.selectAll("line").attr("stroke", "#000").attr("stroke-width", 1.1);

  // x axis (labels only on the last panel)
  const last = i === jointNames.length - 1;
  const xAxis = g.append("g").attr("transform", `translate(0,${top + ph})`)
    .call(d3.axisBottom(x).tickValues(xTicks).tickFormat(last ? d3.format("d") : () => "").tickSize(4.3).tickPadding(6.5));
  xAxis.select(".domain").remove();
  xAxis.selectAll("text").attr("font-size", 11).attr("font-family", "DejaVu Sans").attr("fill", "#000");
  xAxis.selectAll("line").attr("stroke", "#000").attr("stroke-width", 1.1);

  // frame
  g.append("rect").attr("x", left).attr("y", top).attr("width", right - left).attr("height", ph)
    .attr("fill", "none").attr("stroke", "#000").attr("stroke-width", 1.1);

  // y label placed left of the widest tick label
  let minX = left;
  yAxis.selectAll("text").each(function () {
    const b = this.getBBox();
    const m = this.parentNode.transform.baseVal.consolidate();
    const ox = m ? m.matrix.e : 0;
    minX = Math.min(minX, left + ox + b.x);
  });
  const cy = top + ph / 2;
  g.append("text")
    .attr("transform", `translate(${minX - 8.5},${cy}) rotate(-90)`)
    .attr("text-anchor", "middle")
    .attr("font-size", 13.9)
    .text(name);
});

// x label
svg.append("text")
  .attr("x", (left + right) / 2).attr("y", 1389)
  .attr("text-anchor", "middle")
  .attr("font-size", 13.9)
  .text("sim step (vertical lines = new action chunk)");

// legend in the first panel
const lg = svg.append("g").attr("transform", "translate(953,55)");
lg.append("rect").attr("width", 234).attr("height", 23).attr("rx", 3)
  .attr("fill", "#fff").attr("fill-opacity", 0.8)
  .attr("stroke", "#cccccc").attr("stroke-width", 1);
const legendItems = [
  { label: "commanded", color: blue, dash: null, x0: 4 },
  { label: "achieved", color: orange, dash: "7.7,3.3", x0: 140 }
];
legendItems.forEach(it => {
  lg.append("line").attr("x1", it.x0).attr("x2", it.x0 + 27).attr("y1", 11.5).attr("y2", 11.5)
    .attr("stroke", it.color).attr("stroke-width", 1.5).attr("stroke-dasharray", it.dash);
  lg.append("text").attr("x", it.x0 + 36).attr("y", 15.5).attr("font-size", 12).text(it.label);
});
</script>
</body>
</html>
